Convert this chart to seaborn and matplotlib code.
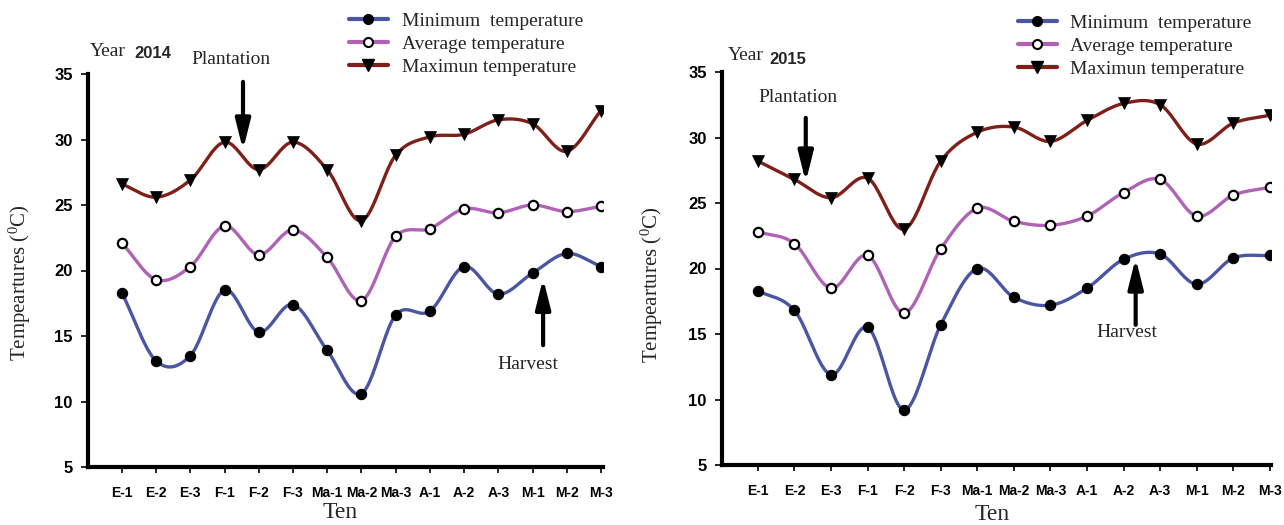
import numpy as np
import pandas as pd
import seaborn as sns
import matplotlib.pyplot as plt
from matplotlib.lines import Line2D

# ten-day periods (E = enero, F = febrero, Ma = marzo, A = abril, M = mayo)
ten = ["E-1", "E-2", "E-3", "F-1", "F-2", "F-3", "Ma-1", "Ma-2", "Ma-3",
       "A-1", "A-2", "A-3", "M-1", "M-2", "M-3"]

min_2014 = [18.3, 13.1, 13.5, 18.5, 15.3, 17.4, 13.9, 10.6, 16.6, 16.9, 20.3, 18.2, 19.8, 21.3, 20.3]
avg_2014 = [22.1, 19.3, 20.3, 23.4, 21.2, 23.1, 21.0, 17.7, 22.6, 23.2, 24.7, 24.4, 25.0, 24.5, 24.9]
max_2014 = [26.6, 25.6, 26.9, 29.8, 27.7, 29.8, 27.7, 23.8, 28.8, 30.2, 30.4, 31.5, 31.2, 29.1, 32.2]

min_2015 = [18.3, 16.8, 11.9, 15.5, 9.2, 15.7, 20.0, 17.8, 17.2, 18.5, 20.7, 21.1, 18.8, 20.8, 21.0]
avg_2015 = [22.8, 21.9, 18.5, 21.0, 16.6, 21.5, 24.6, 23.6, 23.3, 24.0, 25.8, 26.8, 24.0, 25.6, 26.2]
max_2015 = [28.2, 26.8, 25.4, 26.9, 23.0, 28.2, 30.4, 30.8, 29.7, 31.3, 32.6, 32.5, 29.5, 31.1, 31.7]

series_names = ["Minimum  temperature", "Average temperature", "Maximun temperature"]
colors = ["#4a55a4", "#b062b6", "#7e1f1a"]

W, H = 1284, 525
SERIF = ["Liberation Serif", "DejaVu Serif"]
SANS = ["Liberation Sans", "DejaVu Sans"]


def px(x, y):
    return x / W, 1 - y / H


def smooth(vals, n=24):
    # catmull-rom curve through the points, like a spreadsheet "smoothed line"
    p = np.asarray(vals, dtype=float)
    m = np.zeros_like(p)
    m[1:-1] = (p[2:] - p[:-2]) / 2
    m[0] = p[1] - p[0]
    m[-1] = p[-1] - p[-2]
    xs, ys = [], []
    for i in range(len(p) - 1):
        t = np.linspace(0, 1, n, endpoint=(i == len(p) - 2))
        h00 = 2 * t**3 - 3 * t**2 + 1
        h10 = t**3 - 2 * t**2 + t
        h01 = -2 * t**3 + 3 * t**2
        h11 = t**3 - t**2
        xs.append(i + t)
        ys.append(h00 * p[i] + h10 * m[i] + h01 * p[i + 1] + h11 * m[i + 1])
    return np.concatenate(xs), np.concatenate(ys)


sns.set_style("ticks")
plt.rcParams["font.family"] = SANS

fig = plt.figure(figsize=(W / 100, H / 100), dpi=100)
fig.patch.set_facecolor("white")

panels = [
    dict(year="2014", data=[min_2014, avg_2014, max_2014],
         rect=(88, 74, 603, 467), xlim=(-0.99, 14.06),
         ylab=(20, 283), tenlab=(340, 513),
         yeart=(90, 52), yearn=(134, 53),
         plant=(231, 60), plant_arrow=((3.54, 34.4), (3.54, 29.2)),
         harv=(11.87, 12.8), harv_arrow=((12.31, 14.3), (12.31, 19.4)),
         leg=(349, 12)),
    dict(year="2015", data=[min_2015, avg_2015, max_2015],
         rect=(722, 72, 1271, 465), xlim=(-0.98, 14.03),
         ylab=(652, 285), tenlab=(992, 515),
         yeart=(728, 55), yearn=(769, 60),
         plant=(798, 97), plant_arrow=((1.31, 31.5), (1.31, 26.6)),
         harv=(10.09, 15.1), harv_arrow=((10.33, 15.7), (10.33, 20.8)),
         leg=(1018, 14)),
]

for pn in panels:
    l, t, r, b = pn["rect"]
    ax = fig.add_axes([l / W, 1 - b / H, (r - l) / W, (b - t) / H])

    rows = []
    for name, vals in zip(series_names, pn["data"]):
        xs, ys = smooth(vals)
        rows.append(pd.DataFrame({"x": xs, "temp": ys, "series": name}))
    curves = pd.concat(rows, ignore_index=True)
    sns.lineplot(data=curves, x="x", y="temp", hue="series", palette=colors,
                 estimator=None, lw=2.4, legend=False, ax=ax)

    pts = pd.DataFrame({"x": np.arange(len(ten)),
                        "mn": pn["data"][0], "av": pn["data"][1], "mx": pn["data"][2]})
    sns.scatterplot(data=pts, x="x", y="mn", marker="o", s=55, color="black",
                    edgecolor="black", linewidth=0.8, zorder=5, ax=ax)
    sns.scatterplot(data=pts, x="x", y="av", marker="o", s=45, color="white",
                    edgecolor="black", linewidth=1.6, zorder=5, ax=ax)
    sns.scatterplot(data=pts, x="x", y="mx", marker="v", s=75, color="black",
                    edgecolor="black", linewidth=0.5, zorder=5, ax=ax)

    ax.set_xlim(*pn["xlim"])
    ax.set_ylim(5, 35)
    ax.set_xticks(range(len(ten)))
    ax.set_xticklabels(ten)
    ax.set_yticks([5, 10, 15, 20, 25, 30, 35])
    ax.set_xlabel("")
    ax.set_ylabel("")
    sns.despine(ax=ax)
    for s in ["left", "bottom"]:
        ax.spines[s].set_linewidth(3)
        ax.spines[s].set_color("black")
    ax.tick_params(axis="x", length=4, width=1.2, pad=10, colors="black")
    ax.tick_params(axis="y", length=5, width=1.2, pad=6, colors="black")
    for lab in ax.get_xticklabels():
        lab.set_fontweight("bold")
        lab.set_fontsize(10)
        lab.set_family(SANS)
    for lab in ax.get_yticklabels():
        lab.set_fontweight("bold")
        lab.set_fontsize(12)
        lab.set_family(SANS)

    # annotations
    arrow = dict(arrowstyle="-|>,head_length=1.0,head_width=0.25",
                 lw=3, color="black", mutation_scale=18, shrinkA=0, shrinkB=0)
    ax.annotate("", xy=pn["plant_arrow"][1], xytext=pn["plant_arrow"][0],
                arrowprops=arrow, zorder=6)
    ax.annotate("", xy=pn["harv_arrow"][1], xytext=pn["harv_arrow"][0],
                arrowprops=arrow, zorder=6)
    ax.text(*pn["harv"], "Harvest", family=SERIF, fontsize=14,
            ha="center", va="center")

    fig.text(*px(*pn["plant"]), "Plantation", family=SERIF, fontsize=14,
             ha="center", va="center")
    fig.text(*px(*pn["yeart"]), "Year", family=SERIF, fontsize=14,
             ha="left", va="center")
    fig.text(*px(*pn["yearn"]), pn["year"], family=SANS, fontsize=12,
             fontweight="bold", ha="left", va="center")
    fig.text(*px(*pn["ylab"]), "Tempeartures ($\\mathregular{^0}$C)",
             family=SERIF, fontsize=15, rotation=90, ha="center", va="center")
    fig.text(*px(*pn["tenlab"]), "Ten", family=SERIF, fontsize=17,
             ha="center", va="center")

    handles = [
        Line2D([], [], color=colors[0], lw=3, marker="o", ms=7,
               mfc="black", mec="black"),
        Line2D([], [], color=colors[1], lw=3, marker="o", ms=6.5,
               mfc="white", mec="black", mew=1.5),
        Line2D([], [], color=colors[2], lw=3, marker="v", ms=8,
               mfc="black", mec="black"),
    ]
    fig.legend(handles, series_names, loc="upper left",
               bbox_to_anchor=px(*pn["leg"]), frameon=False,
               prop={"family": SERIF, "size": 14}, handlelength=2.0,
               handletextpad=0.7, labelspacing=0.28, borderpad=0,
               borderaxespad=0)

fig.savefig("out.png", dpi=100, facecolor="white")
